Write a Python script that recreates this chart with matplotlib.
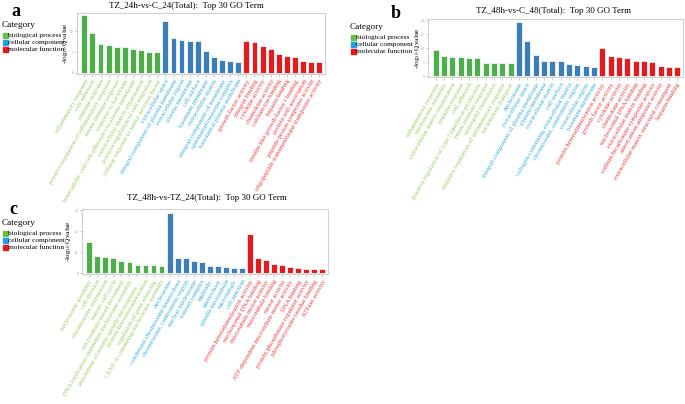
import matplotlib
matplotlib.use("Agg")
import matplotlib.pyplot as plt
from matplotlib.patches import Rectangle

plt.rcParams["font.family"] = ["Liberation Serif", "DejaVu Serif"]
plt.rcParams["mathtext.fontset"] = "stix"

# ---------------- DATA ----------------

# panel a: TZ_24h-vs-C_24
a_bp_terms = ["inflammatory response", "cell adhesion", "immune response",
              "positive regulation of inflammatory response", "innate immune response",
              "response to bacterium", "heterophilic cell-cell adhesion via plasma membrane",
              "extracellular matrix organization", "positive regulation of cell migration",
              "cellular response to tumor necrosis factor"]
a_bp_vals = [14.0, 9.6, 7.0, 6.7, 6.2, 6.1, 5.7, 5.5, 4.9, 4.9]
a_cc_terms = ["extracellular space", "integral component of plasma membrane",
              "extracellular region", "plasma membrane", "cell surface", "basement membrane",
              "extracellular matrix", "integral component of membrane",
              "spermatoproteasome complex", "basolateral plasma membrane"]
a_cc_vals = [12.4, 8.4, 8.0, 7.7, 7.6, 5.3, 3.9, 3.0, 2.9, 2.6]
a_mf_terms = ["growth factor activity", "integrin binding", "cytokine activity",
              "chemokine activity", "calcium ion binding", "heparin binding",
              "insulin-like growth factor I binding", "protein self-association",
              "peptide:proton symporter activity",
              "oligopeptide transmembrane transporter activity"]
a_mf_vals = [7.7, 7.3, 6.5, 5.7, 4.5, 4.1, 3.8, 2.9, 2.6, 2.6]

# panel b: TZ_48h-vs-C_48
b_bp_terms = ["inflammatory response", "nucleosome assembly",
              "extracellular matrix organization", "immune response", "cell adhesion",
              "positive regulation of type I interferon production",
              "innate immune response", "neutrophil chemotaxis",
              "negative regulation of inflammatory response", "bicarbonate transport"]
b_bp_vals = [9.4, 7.3, 6.8, 6.8, 6.7, 6.4, 4.7, 4.6, 4.6, 4.6]
b_cc_terms = ["nucleosome", "extracellular space", "integral component of plasma membrane",
              "plasma membrane", "extracellular matrix", "cell surface",
              "collagen-containing extracellular matrix", "chromosome, centromeric region",
              "extracellular region", "basement membrane"]
b_cc_vals = [19.6, 12.6, 7.6, 5.6, 5.5, 5.3, 4.4, 4.2, 3.8, 3.2]
b_mf_terms = ["protein heterodimerization activity", "growth factor activity",
              "cytokine activity", "chemokine activity", "nucleosomal DNA binding",
              "extracellular matrix binding", "sodium:bicarbonate symporter activity",
              "anion:anion antiporter activity",
              "extracellular matrix structural constituent", "heparin binding"]
b_mf_vals = [10.0, 7.1, 6.8, 6.4, 5.6, 5.5, 5.1, 3.8, 3.5, 3.3]

# panel c: TZ_48h-vs-TZ_24
c_bp_terms = ["nucleosome assembly", "cell division", "chromosome segregation",
              "mitotic cell cycle", "microtubule-based movement",
              "DNA replication-dependent nucleosome assembly",
              "attachment of mitotic spindle microtubules ...",
              "protein heterotetramerization", "regulation of gene silencing",
              "CENP-A containing nucleosome assembly"]
c_bp_vals = [14.7, 8.3, 7.8, 7.4, 5.8, 5.6, 4.0, 4.0, 3.7, 3.4]
c_cc_terms = ["nucleosome", "condensed chromosome kinetochore",
              "chromosome, centromeric region", "nuclear nucleosome", "kinesin complex",
              "midbody", "kinetochore", "spindle microtubule", "microtubule", "cell junction"]
c_cc_vals = [28.8, 7.5, 7.2, 5.8, 5.4, 3.5, 3.5, 2.9, 2.7, 2.6]
c_mf_terms = ["protein heterodimerization activity", "nucleosomal DNA binding",
              "microtubule motor activity", "microtubule binding", "motor activity",
              "ATP-dependent microtubule motor activity", "DNA binding",
              "protein phosphatase regulator activity",
              "phosphotyrosine residue binding", "ATPase activity"]
c_mf_vals = [18.6, 7.2, 6.1, 4.5, 3.8, 2.9, 2.6, 2.1, 1.9, 1.9]

BAR_COLORS = ["#4DAF4A", "#3A7EBA", "#E41A1C"]
LABEL_COLORS = ["#9ACD5E", "#35AEE6", "#F0383A"]
LEGEND_COLORS = ["#6BBE45", "#1E9FE3", "#E8161E"]
CATEGORIES = ["biological process", "cellular component", "molecular function"]

W, H = 685, 404


def px_rect(left, top, right, bottom):
    return [left / W, 1 - bottom / H, (right - left) / W, (bottom - top) / H]


def draw_legend(fig, x, y):
    fig.text(x / W, 1 - y / H, "Category", fontsize=6.6, va="center", ha="left")
    for i, (cat, col) in enumerate(zip(CATEGORIES, LEGEND_COLORS)):
        yy = y + 10.5 + 7 * i
        fig.patches.append(Rectangle(((x + 0.5) / W, 1 - (yy + 2.6) / H), 5.2 / W, 5.2 / H,
                                     transform=fig.transFigure, color=col, figure=fig))
        fig.text((x + 6.3) / W, 1 - yy / H, cat, fontsize=5.3, va="center", ha="left")


def draw_panel(fig, rect, terms, vals, ymax, yticks, ylabel_x):
    ax = fig.add_axes(rect)
    names, heights, colors, tcolors = [], [], [], []
    for k in range(3):
        names += terms[k]
        heights += vals[k]
        colors += [BAR_COLORS[k]] * len(vals[k])
        tcolors += [LABEL_COLORS[k]] * len(vals[k])
    x = list(range(len(heights)))
    ax.bar(x, heights, width=0.72, color=colors, edgecolor="#F4F4F4", linewidth=0.6)
    ax.set_xlim(-0.9, len(x) - 0.3)
    ax.set_ylim(-0.012 * ymax, ymax)
    ax.set_xticks(x)
    ax.set_xticklabels(names, rotation=60, ha="right", va="top", rotation_mode="anchor",
                       fontsize=4.8)
    for lab, c in zip(ax.get_xticklabels(), tcolors):
        lab.set_color(c)
    ax.set_yticks(yticks)
    ax.set_yticklabels([str(t) for t in yticks])
    ax.tick_params(axis="y", labelsize=2.5, length=1.5, width=0.4, colors="#999999", pad=1)
    ax.tick_params(axis="x", length=2, width=0.4, color="#AAAAAA", pad=1.5)
    for s in ax.spines.values():
        s.set_color("#D0D0D0")
        s.set_linewidth(0.8)
    ax.set_ylabel(r"-log$_{10}$ Qvalue", fontsize=5.2)
    ax.yaxis.set_label_coords(ylabel_x, 0.5)
    return ax


fig = plt.figure(figsize=(W / 100, H / 100), dpi=100)

# a
draw_panel(fig, px_rect(77, 13, 325, 73.5),
           [a_bp_terms, a_cc_terms, a_mf_terms], [a_bp_vals, a_cc_vals, a_mf_vals],
           14.4, [0, 5, 10], -0.028)
fig.text(186 / W, 1 - 6 / H, "TZ_24h-vs-C_24(Total):  Top 30 GO Term", fontsize=6.5,
         ha="center", va="center")
fig.text(16 / W, 1 - 11 / H, "a", fontsize=13, fontweight="bold", ha="center", va="center")
draw_legend(fig, 2, 25)

# b
draw_panel(fig, px_rect(428, 19, 683, 77),
           [b_bp_terms, b_cc_terms, b_mf_terms], [b_bp_vals, b_cc_vals, b_mf_vals],
           20.5, [0, 5, 10, 15, 20], -0.022)
fig.text(554 / W, 1 - 11 / H, "TZ_48h-vs-C_48(Total):  Top 30 GO Term", fontsize=6.5,
         ha="center", va="center")
fig.text(396 / W, 1 - 13 / H, "b", fontsize=13, fontweight="bold", ha="center", va="center")
draw_legend(fig, 350, 27)

# c
draw_panel(fig, px_rect(82, 209, 328, 274),
           [c_bp_terms, c_cc_terms, c_mf_terms], [c_bp_vals, c_cc_vals, c_mf_vals],
           30.7, [0, 10, 20, 30], -0.036)
fig.text(207 / W, 1 - 198 / H, "TZ_48h-vs-TZ_24(Total):  Top 30 GO Term", fontsize=6.5,
         ha="center", va="center")
fig.text(13 / W, 1 - 209 / H, "c", fontsize=13, fontweight="bold", ha="center", va="center")
draw_legend(fig, 2, 223)

fig.savefig("out.png", dpi=100)
